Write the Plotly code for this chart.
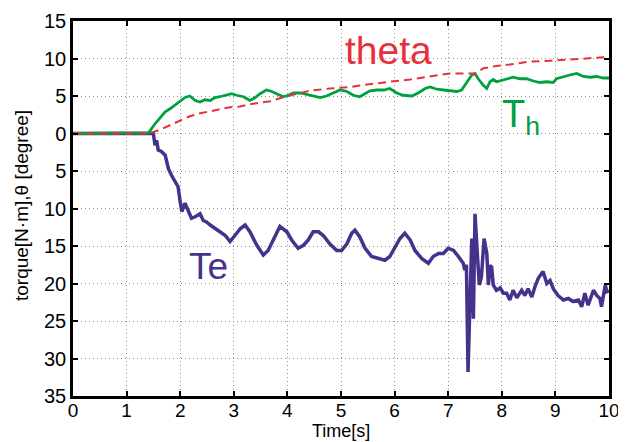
import plotly.graph_objects as go

# ---- data ----
te_t = [0, 1.50, 1.53, 1.56, 1.59, 1.65, 1.72, 1.78, 1.84, 1.90, 1.96, 2.00, 2.03, 2.09, 2.15, 2.21,
        2.28, 2.37, 2.43, 2.49, 2.56, 2.65, 2.74, 2.84, 2.93, 3.02, 3.12, 3.21, 3.30, 3.43, 3.55,
        3.64, 3.74, 3.86, 3.99, 4.08, 4.20, 4.30, 4.39, 4.48, 4.58, 4.67, 4.79, 4.92, 5.01, 5.11,
        5.20, 5.26, 5.35, 5.45, 5.57, 5.70, 5.82, 5.91, 6.01, 6.10, 6.19, 6.29, 6.38, 6.51, 6.63,
        6.72, 6.82, 6.91, 7.00, 7.10, 7.19, 7.28, 7.31, 7.34, 7.37, 7.44, 7.47, 7.50, 7.54, 7.58,
        7.62, 7.67, 7.72, 7.75, 7.78, 7.81, 7.84, 7.90, 7.97, 8.03, 8.09, 8.15, 8.21, 8.28, 8.37,
        8.43, 8.49, 8.56, 8.62, 8.68, 8.77, 8.84, 8.90, 8.96, 9.05, 9.15, 9.24, 9.33, 9.43, 9.49,
        9.55, 9.61, 9.71, 9.77, 9.83, 9.86, 9.93, 9.96, 10.0]
te_v = [0, 0, -1.56, -0.9, -2.2, -2.4, -2.9, -4.7, -5.6, -6.4, -7.1, -9.1, -10.4, -9.3, -10.2, -11.3,
        -11.1, -10.7, -11.6, -11.8, -12.2, -12.7, -13.1, -13.6, -14.4, -13.6, -12.7, -12.2, -13.1, -14.9, -16.2,
        -15.6, -14.2, -12.4, -13.1, -14.2, -15.3, -14.9, -14.2, -13.1, -13.1, -13.6, -14.7, -15.6, -15.6, -14.7,
        -13.3, -12.9, -13.8, -15.3, -16.4, -16.7, -16.9, -16.4, -15.1, -14.0, -13.3, -14.2, -15.6, -16.7, -17.3,
        -16.4, -16.0, -16.0, -15.3, -15.6, -16.4, -17.3, -18.2, -17.5, -31.8, -14.0, -24.7, -10.7, -15.6, -20.2,
        -19.1, -14.0, -16.0, -20.2, -17.6, -17.8, -20.2, -20.9, -20.6, -21.3, -21.3, -22.2, -20.9, -21.9, -20.9,
        -21.6, -20.7, -21.8, -20.4, -19.3, -18.4, -20.0, -19.6, -20.7, -21.6, -22.2, -22.0, -22.4, -22.2, -23.1,
        -21.3, -22.9, -20.9, -21.6, -22.0, -23.1, -20.2, -21.1, -21.0]

th_t = [0, 1.41, 1.53, 1.62, 1.72, 1.81, 1.90, 2.00, 2.09, 2.18, 2.28, 2.37, 2.46, 2.56, 2.65, 2.74,
        2.87, 2.96, 3.05, 3.18, 3.30, 3.40, 3.49, 3.61, 3.71, 3.80, 3.92, 4.02, 4.11, 4.24, 4.36,
        4.48, 4.61, 4.73, 4.86, 4.98, 5.11, 5.23, 5.35, 5.45, 5.54, 5.67, 5.80, 5.91, 6.04, 6.16,
        6.32, 6.44, 6.57, 6.66, 6.79, 6.91, 7.03, 7.16, 7.25, 7.34, 7.44, 7.50, 7.56, 7.66, 7.72,
        7.78, 7.84, 7.90, 8.00, 8.09, 8.21, 8.34, 8.46, 8.59, 8.71, 8.84, 8.96, 9.02, 9.15, 9.27,
        9.40, 9.52, 9.65, 9.77, 9.89, 10.0]
th_v = [0, 0.1, 1.3, 2.0, 2.9, 3.3, 3.8, 4.4, 4.8, 5.0, 4.4, 4.2, 4.5, 4.4, 4.8, 4.9,
        5.1, 5.3, 5.1, 4.9, 4.4, 4.8, 5.3, 5.8, 5.6, 5.3, 4.9, 5.1, 5.4, 5.4, 5.2,
        5.0, 4.8, 5.0, 5.4, 5.8, 5.6, 5.1, 4.9, 5.3, 5.7, 5.8, 5.8, 6.0, 5.4, 5.1,
        5.0, 5.4, 6.0, 6.2, 5.9, 5.8, 5.7, 5.6, 5.8, 6.7, 7.8, 8.0, 7.3, 6.4, 6.0,
        6.9, 7.2, 6.9, 7.1, 7.3, 7.5, 7.3, 7.3, 7.0, 6.8, 6.9, 6.8, 7.3, 7.6, 7.8,
        8.0, 7.6, 7.5, 7.6, 7.4, 7.4]

theta_t = [0, 1.42, 1.62, 1.81, 2.00, 2.18, 2.37, 2.56, 2.74, 2.93, 3.12, 3.30, 3.49, 3.68, 3.86,
           4.05, 4.24, 4.42, 4.61, 4.79, 4.98, 5.17, 5.35, 5.54, 5.73, 5.91, 6.29, 6.66, 7.03,
           7.34, 7.50, 7.66, 7.90, 8.15, 8.53, 8.90, 9.27, 9.65, 10.0]
theta_v = [0, 0, 0.5, 1.1, 1.8, 2.3, 2.7, 3.0, 3.2, 3.5, 3.6, 3.9, 4.1, 4.3, 4.7,
           5.1, 5.4, 5.7, 5.9, 6.0, 6.1, 6.2, 6.4, 6.6, 6.7, 6.9, 7.2, 7.6, 8.0,
           8.0, 8.0, 8.7, 9.0, 9.2, 9.6, 9.7, 9.9, 10.1, 10.2]

x_ticks = list(range(0, 11))
y_ticks = [15, 10, 5, 0, -5, -10, -15, -20, -25, -30, -35]
y_tick_text = ["15", "10", "5", "0", "5", "10", "15", "20", "25", "30", "35"]

PURPLE = "#46318c"
GREEN = "#00a040"
RED = "#e8303a"
FONT = "Liberation Sans, Arial, sans-serif"

fig = go.Figure()
fig.add_trace(go.Scatter(x=te_t, y=te_v, mode="lines", line=dict(color=PURPLE, width=3.5)))
fig.add_trace(go.Scatter(x=th_t, y=th_v, mode="lines", line=dict(color=GREEN, width=2.8)))
fig.add_trace(go.Scatter(x=theta_t, y=theta_v, mode="lines",
                         line=dict(color=RED, width=2, dash="8px,5px")))

fig.add_annotation(x=5.88, y=11.1, text="theta", showarrow=False,
                   font=dict(family=FONT, size=39, color=RED))
fig.add_annotation(x=8.36, y=2.2, text="T<sub>h</sub>", showarrow=False,
                   font=dict(family=FONT, size=38, color=GREEN))
fig.add_annotation(x=2.52, y=-17.7, text="Te", showarrow=False,
                   font=dict(family=FONT, size=37, color=PURPLE))

# axis titles placed as annotations (pixel-matched)
fig.add_annotation(xref="paper", yref="paper", x=0.5, y=-0.093, text="Time[s]",
                   showarrow=False, yanchor="middle",
                   font=dict(family=FONT, size=18, color="black"))
fig.add_annotation(xref="paper", yref="paper", x=-0.096, y=0.508, text="torque[N·m],θ [degree]",
                   showarrow=False, textangle=-90, xanchor="center", yanchor="middle",
                   font=dict(family=FONT, size=19, color="black"))

axis_common = dict(showline=True, linecolor="black", linewidth=2.5, mirror="ticks",
                   ticks="inside", ticklen=5, tickwidth=2, tickcolor="black",
                   showgrid=True, gridcolor="#909090", gridwidth=1, griddash="1px,3px",
                   zeroline=False, automargin=False)

fig.update_xaxes(range=[0, 10], tickvals=x_ticks, ticktext=[str(v) for v in x_ticks],
                 ticklabelstandoff=-5, tickfont=dict(family=FONT, size=19, color="black"),
                 **axis_common)
fig.update_yaxes(range=[-35, 15], tickvals=y_ticks, ticktext=y_tick_text,
                 tickfont=dict(family=FONT, size=20, color="black"), **axis_common)

# page body has an 8px margin, so the figure is sized/offset to land the plot area
# where the reference has it inside the 626x442 window
fig.update_layout(width=618, height=434, margin=dict(l=65, r=17, t=13, b=46),
                  paper_bgcolor="white", plot_bgcolor="white", showlegend=False)

fig.write_html("out.html")
